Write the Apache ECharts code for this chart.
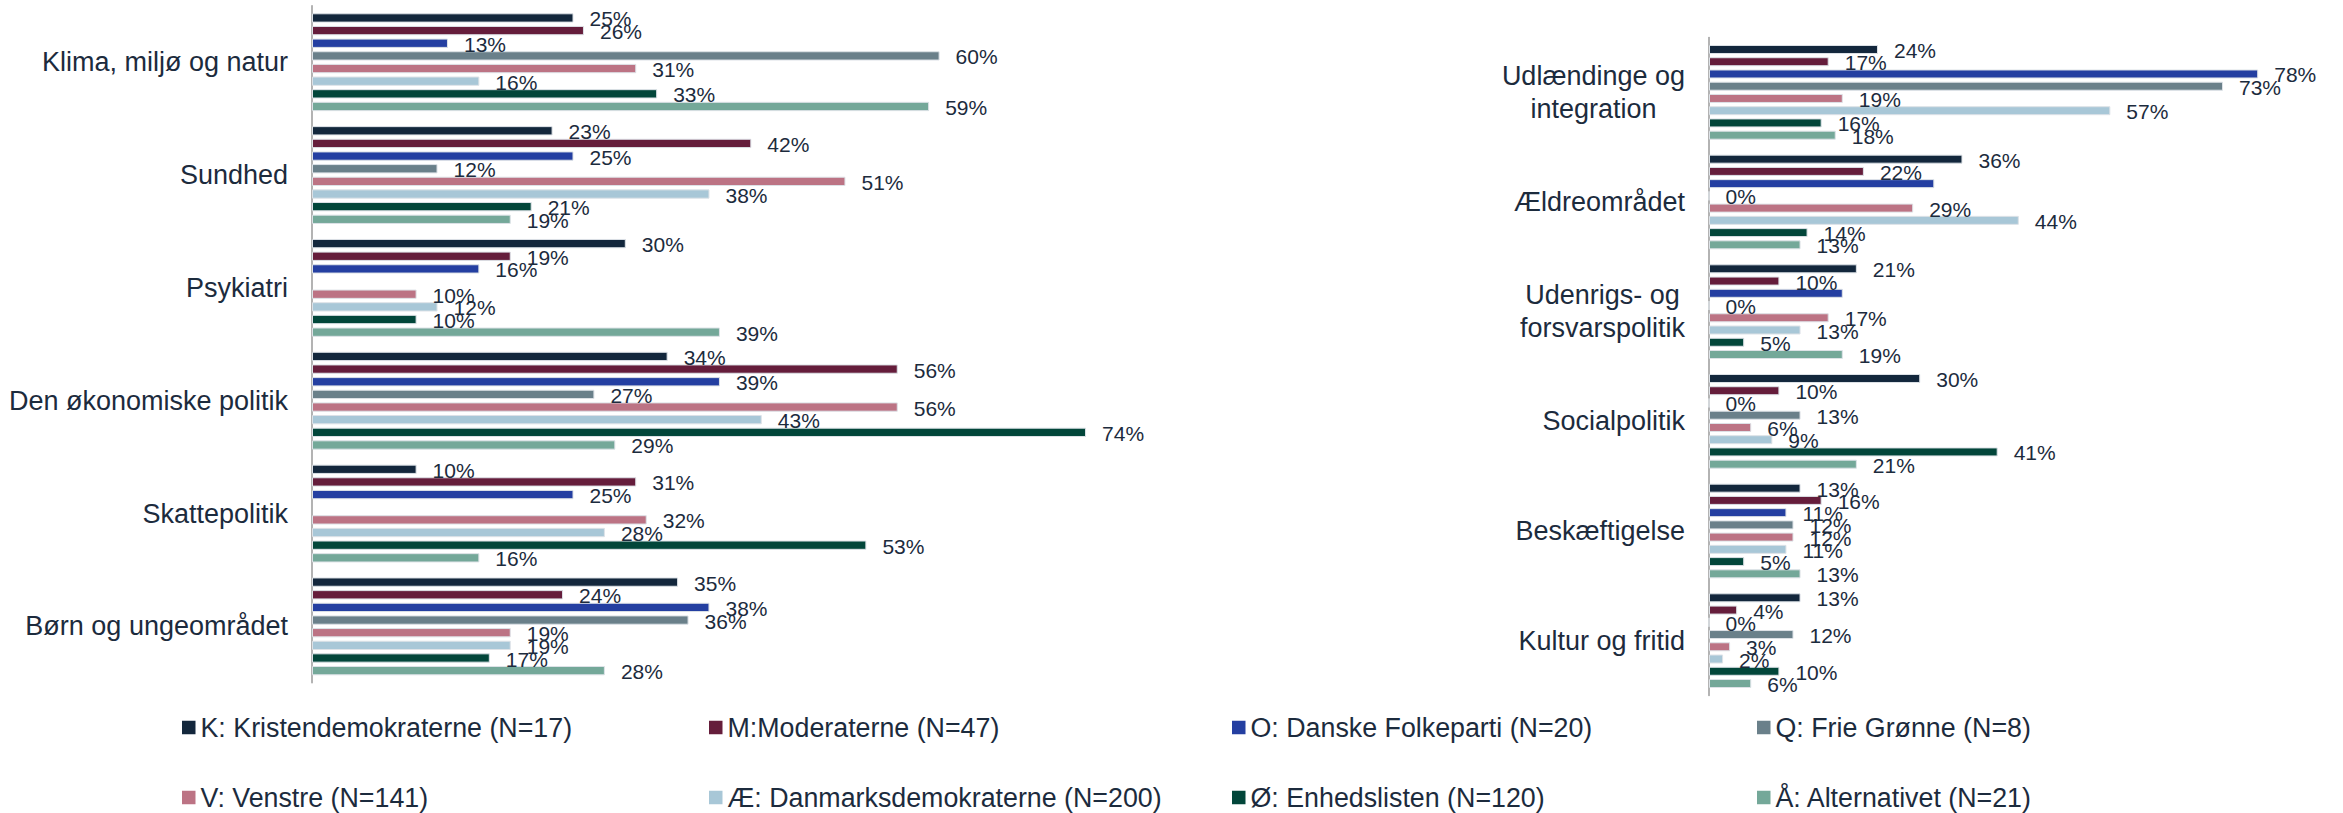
<!DOCTYPE html>
<html lang="da">
<head>
<meta charset="utf-8">
<title>Vigtigste politiske emner fordelt på parti</title>
<script src="https://cdn.jsdelivr.net/npm/echarts@6/dist/echarts.min.js"></script>
<style>
  html, body { margin: 0; padding: 0; background: #ffffff; }
  #chart { width: 2343px; height: 813px; }
</style>
</head>
<body>
<div id="chart"></div>
<script>
// Categories (topics) for the two panels
const leftCategories = [
  'Klima, miljø og natur',
  'Sundhed',
  'Psykiatri',
  'Den økonomiske politik',
  'Skattepolitik',
  'Børn og ungeområdet'
];
const rightCategories = [
  'Udlændinge og\nintegration',
  'Ældreområdet',
  'Udenrigs- og\nforsvarspolitik',
  'Socialpolitik',
  'Beskæftigelse',
  'Kultur og fritid'
];

// Parties (legend entries)
const partyNames = [
  'K: Kristendemokraterne (N=17)',
  'M:Moderaterne (N=47)',
  'O: Danske Folkeparti (N=20)',
  'Q: Frie Grønne (N=8)',
  'V: Venstre (N=141)',
  'Æ: Danmarksdemokraterne (N=200)',
  'Ø: Enhedslisten (N=120)',
  'Å: Alternativet (N=21)'
];
const partyColors = ['#13273c', '#651d3b', '#243fa1', '#6a808a', '#bc7384', '#a8c7d7', '#02463a', '#74a899'];

// Shares in percent, left panel (null = no answer shown)
const leftK = [25, 23, 30, 34, 10, 35];
const leftM = [26, 42, 19, 56, 31, 24];
const leftO = [13, 25, 16, 39, 25, 38];
const leftQ = [60, 12, null, 27, null, 36];
const leftV = [31, 51, 10, 56, 32, 19];
const leftAE = [16, 38, 12, 43, 28, 19];
const leftOE = [33, 21, 10, 74, 53, 17];
const leftAA = [59, 19, 39, 29, 16, 28];

// Shares in percent, right panel
const rightK = [24, 36, 21, 30, 13, 13];
const rightM = [17, 22, 10, 10, 16, 4];
const rightO = [78, 32, 19, 0, 11, 0];
const rightQ = [73, 0, 0, 13, 12, 12];
const rightV = [19, 29, 17, 6, 12, 3];
const rightAE = [57, 44, 13, 9, 11, 2];
const rightOE = [16, 14, 5, 41, 5, 10];
const rightAA = [18, 13, 19, 21, 13, 6];

// Bars printed without a value label
const rightUnlabelled = { 2: [1, 2] };

const leftSeries = [leftK, leftM, leftO, leftQ, leftV, leftAE, leftOE, leftAA];
const rightSeries = [rightK, rightM, rightO, rightQ, rightV, rightAE, rightOE, rightAA];

const FONT = '"Liberation Sans", Arial, Helvetica, sans-serif';
const TEXT = '#1c2b3d';

function categoryAxis(gridIndex, data) {
  return {
    type: 'category',
    gridIndex: gridIndex,
    data: data,
    inverse: true,
    axisTick: { show: false },
    axisLine: { show: true, lineStyle: { color: '#9a9a9a', width: 1.5 } },
    axisLabel: {
      margin: 24,
      fontFamily: FONT,
      fontSize: 27,
      color: TEXT,
      formatter: function (v) {
        return v.split('\n').map(function (l) { return '{c|' + l + '}'; }).join('\n');
      },
      rich: { c: { align: 'center', fontFamily: FONT, fontSize: 27, lineHeight: 33, color: TEXT } }
    }
  };
}

function valueAxis(gridIndex, max) {
  return {
    type: 'value', gridIndex: gridIndex, min: 0, max: max,
    show: false, splitLine: { show: false }
  };
}

function buildSeries(values, panel, idx, hidden) {
  const skip = hidden || [];
  return {
    type: 'bar',
    name: partyNames[idx],
    xAxisIndex: panel,
    yAxisIndex: panel,
    barWidth: panel === 0 ? 9.3 : 9,
    barGap: '36%',
    itemStyle: { color: partyColors[idx], borderColor: '#dde2e7', borderWidth: 1 },
    label: {
      show: true,
      position: 'right',
      distance: 16,
      offset: [0, 1],
      fontFamily: FONT,
      fontSize: 21,
      color: TEXT,
      formatter: function (p) { return p.value + '%'; }
    },
    data: values.map(function (v, i) {
      if (v === null) return '-';
      if (skip.indexOf(i) >= 0) return { value: v, label: { show: false } };
      return v;
    })
  };
}

const series = [];
leftSeries.forEach(function (vals, i) { series.push(buildSeries(vals, 0, i)); });
rightSeries.forEach(function (vals, i) { series.push(buildSeries(vals, 1, i, rightUnlabelled[i])); });

// Legend laid out as 4 columns x 2 rows
const legendColumns = [182, 709, 1232, 1757];
const legends = legendColumns.map(function (x, c) {
  return {
    orient: 'vertical',
    left: x,
    top: 712.5,
    padding: 0,
    itemGap: 40,
    itemWidth: 13.5,
    itemHeight: 13.5,
    icon: 'rect',
    selectedMode: false,
    itemStyle: { borderWidth: 0 },
    textStyle: { fontFamily: FONT, fontSize: 26.8, color: TEXT, lineHeight: 30 },
    data: [partyNames[c], partyNames[c + 4]]
  };
});

const chart = echarts.init(document.getElementById('chart'), null, { renderer: 'svg' });
chart.setOption({
  animation: false,
  backgroundColor: '#ffffff',
  textStyle: { fontFamily: FONT },
  grid: [
    { left: 312, top: 5.8, width: 1046, height: 677 },
    { left: 1709, top: 37.5, width: 598.5, height: 658 }
  ],
  xAxis: [valueAxis(0, 100), valueAxis(1, 85)],
  yAxis: [categoryAxis(0, leftCategories), categoryAxis(1, rightCategories)],
  legend: legends,
  series: series
});
</script>
</body>
</html>
